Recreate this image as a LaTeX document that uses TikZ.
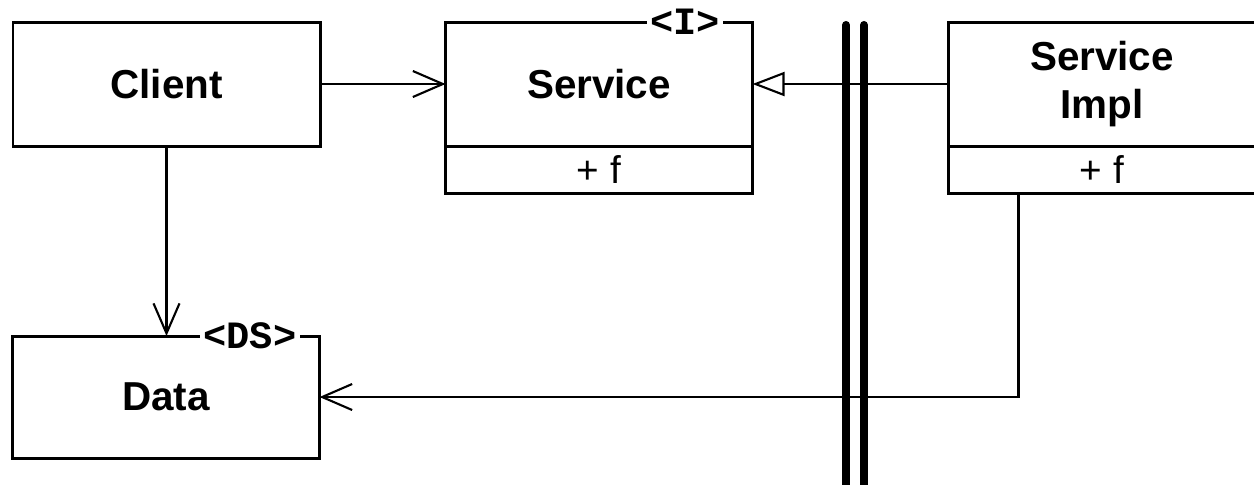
\documentclass[tikz,border=0pt]{standalone}
\usepackage{fontspec}
\setmainfont{Liberation Sans}
\setmonofont{Liberation Mono}
\usetikzlibrary{arrows.meta,positioning,calc}

\begin{document}
\begin{tikzpicture}[
    classbox/.style={draw, line width=0.85pt, outer sep=0pt, inner sep=0pt,
        minimum width=3.07cm, minimum height=1.24cm, align=center,
        font=\bfseries\fontsize{11.5}{13.6}\selectfont},
    opsbox/.style={draw, line width=0.85pt, outer sep=0pt, inner sep=0pt,
        minimum width=3.07cm, minimum height=0.47cm, font=\fontsize{11}{13}\selectfont},
    stereo/.style={fill=white, inner sep=1pt, font=\ttfamily\bfseries\fontsize{11}{13}\selectfont},
    assoc/.style={line width=0.6pt, -{Straight Barb[length=3mm,width=2.6mm]}},
    realize/.style={line width=0.6pt, -{Triangle[open,length=3.2mm,width=2.4mm]}},
    wall/.style={line width=2.3pt, line cap=round}]
  \clip (0,0) rectangle (12.54,-4.84);
  % classes
  \node[classbox] (client) at (1.665,-0.84) {Client};
  \node[classbox] (service) at (5.99,-0.84) {Service};
  \node[opsbox, below=0pt of service] (serviceops) {+ f};
  \node[classbox] (impl) at (11.02,-0.84) {Service\\Impl};
  \node[opsbox, below=0pt of impl] (implops) {+ f};
  \node[classbox, minimum height=1.22cm] (data) at (1.66,-3.97) {Data};
  % stereotypes
  \node[stereo] (servicetag) at ([xshift=-0.675cm]service.north east) {<I>};
  \node[stereo] (datatag) at ([xshift=-0.695cm]data.north east) {<DS>};
  % boundary
  \draw[wall] (8.46,-0.25) -- (8.46,-5.2);
  \draw[wall] (8.64,-0.25) -- (8.64,-5.2);
  % connectors
  \draw[assoc] (client) -- (service);
  \draw[realize] (impl) -- (service);
  \draw[assoc] (client) -- (client |- data.north);
  \draw[assoc] ([xshift=0.7cm]implops.south west) |- (data);
\end{tikzpicture}
\end{document}
